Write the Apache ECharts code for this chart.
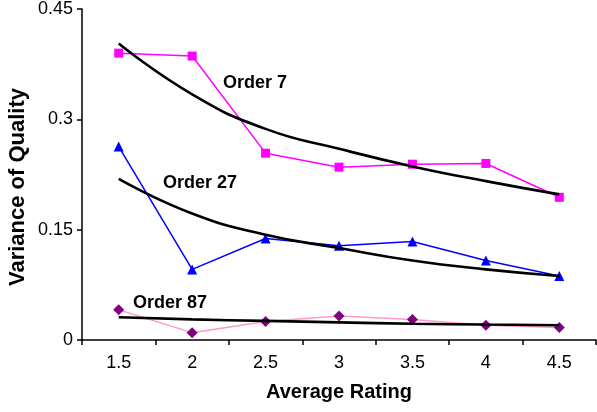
<!DOCTYPE html>
<html>
<head>
<meta charset="utf-8">
<script src="https://cdn.jsdelivr.net/npm/echarts@6/dist/echarts.min.js"></script>
<style>
html,body{margin:0;padding:0;background:#fff;}
#c{width:597px;height:412px;}
</style>
</head>
<body>
<div id="c"></div>
<script>
const categories = ['1.5','2','2.5','3','3.5','4','4.5'];
const order7 = [0.390, 0.386, 0.254, 0.235, 0.239, 0.240, 0.194];
const order7Trend = [0.403, 0.334, 0.287, 0.260, 0.236, 0.216, 0.198];
const order27 = [0.263, 0.096, 0.138, 0.128, 0.134, 0.108, 0.087];
const order27Trend = [0.219, 0.172, 0.143, 0.125, 0.108, 0.096, 0.087];
const order87 = [0.041, 0.010, 0.025, 0.0325, 0.028, 0.020, 0.017];
const order87Trend = [0.031, 0.028, 0.026, 0.024, 0.022, 0.021, 0.020];
const yTicks = [0, 0.15, 0.3, 0.45];

const FONT = '"Liberation Sans", Arial, sans-serif';
const chart = echarts.init(document.getElementById('c'), null, {renderer: 'canvas'});

function trend(data) {
  return {type: 'line', data: data, smooth: true, symbol: 'none',
    lineStyle: {color: '#000', width: 2.6}, z: 3, animation: false};
}

chart.setOption({
  animation: false,
  grid: {left: 82, top: 8, right: 1, bottom: 72},
  xAxis: {
    type: 'category', data: categories, boundaryGap: true,
    name: 'Average Rating', nameLocation: 'middle', nameGap: 42,
    nameTextStyle: {fontFamily: FONT, fontSize: 20, fontWeight: 'bold', color: '#000'},
    axisLine: {lineStyle: {color: '#000', width: 1.5}},
    axisTick: {show: true, length: 5, inside: false, alignWithLabel: false, lineStyle: {color: '#000', width: 1.5}},
    axisLabel: {fontFamily: FONT, fontSize: 18, color: '#000', margin: 14},
    splitLine: {show: false}
  },
  yAxis: {
    type: 'value', min: 0, max: 0.45, interval: 0.15,
    axisLine: {show: true, lineStyle: {color: '#000', width: 1.5}},
    axisTick: {show: true, length: 5, lineStyle: {color: '#000', width: 1.5}},
    axisLabel: {fontFamily: FONT, fontSize: 18, color: '#000', margin: 9,
      formatter: function (v) { const r = Math.round(v*100)/100; return yTicks.indexOf(r) >= 0 ? String(r) : ''; }},
    splitLine: {show: false}
  },
  series: [
    {type: 'line', data: order7, symbol: 'rect', symbolSize: 9,
      itemStyle: {color: '#FF00FF'}, lineStyle: {color: '#FF00FF', width: 1.5}, z: 2},
    {type: 'line', data: order27, symbol: 'triangle', symbolSize: 10,
      itemStyle: {color: '#0000FF'}, lineStyle: {color: '#0000FF', width: 1.5}, z: 2},
    {type: 'line', data: order87, symbol: 'diamond', symbolSize: 11,
      itemStyle: {color: '#800080'}, lineStyle: {color: '#FF99CC', width: 1.5}, z: 2},
    trend(order7Trend),
    trend(order27Trend),
    trend(order87Trend)
  ],
  graphic: [
    {type: 'text', x: 18, y: 187, rotation: Math.PI / 2,
      style: {text: 'Variance of Quality', font: 'bold 22px ' + FONT, fill: '#000', align: 'center', verticalAlign: 'middle'}},
    {type: 'text', left: 223, top: 74, style: {text: 'Order 7', font: 'bold 18px ' + FONT, fill: '#000'}},
    {type: 'text', left: 163, top: 174, style: {text: 'Order 27', font: 'bold 18px ' + FONT, fill: '#000'}},
    {type: 'text', left: 133, top: 294, style: {text: 'Order 87', font: 'bold 18px ' + FONT, fill: '#000'}}
  ]
});
</script>
</body>
</html>
